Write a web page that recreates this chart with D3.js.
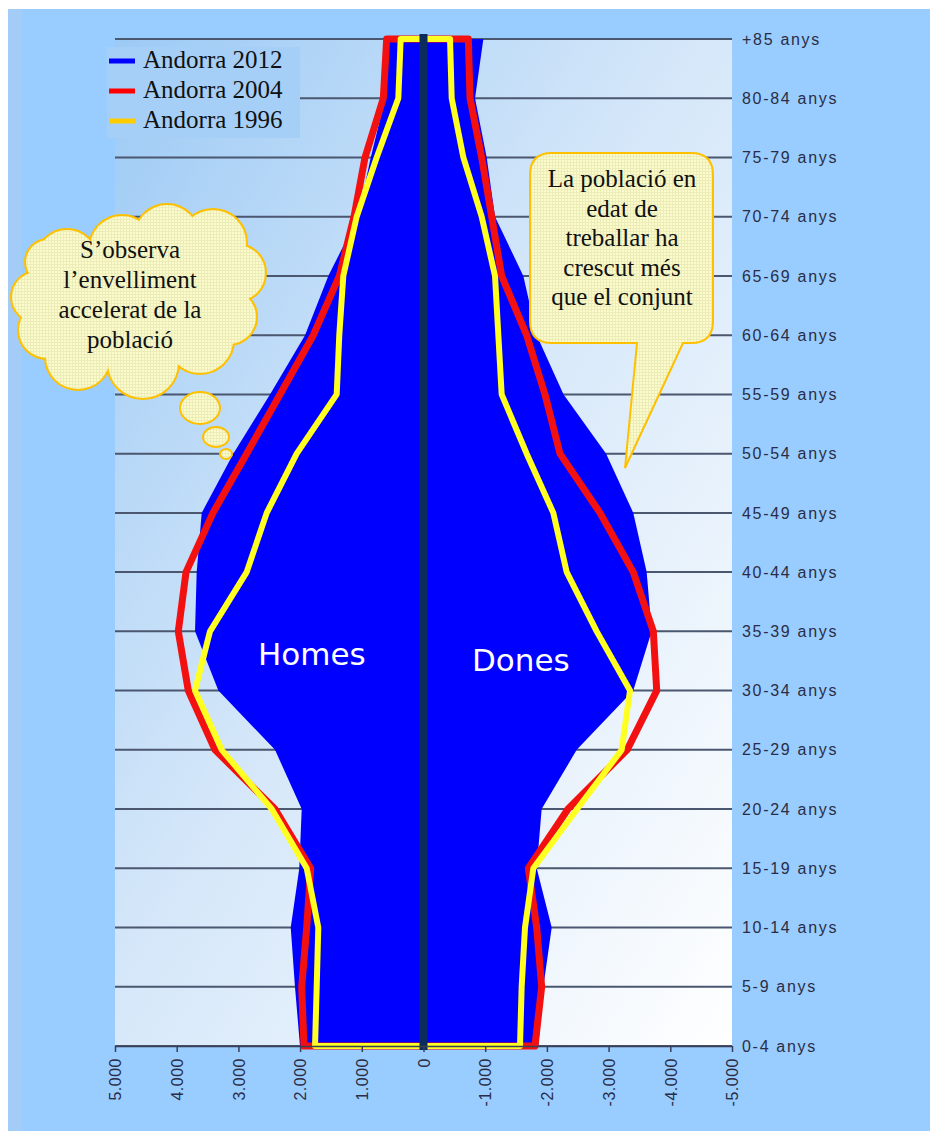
<!DOCTYPE html>
<html><head><meta charset="utf-8">
<script src="https://cdn.jsdelivr.net/npm/d3@7"></script>
<style>body{margin:0;background:#99ccff;} svg{display:block}</style>
</head><body>
<svg id="chart" width="930" height="1131"></svg>
<script>
// ---- data (bottom to top) ----
const categories = ["0-4 anys","5-9 anys","10-14 anys","15-19 anys","20-24 anys","25-29 anys","30-34 anys","35-39 anys","40-44 anys","45-49 anys","50-54 anys","55-59 anys","60-64 anys","65-69 anys","70-74 anys","75-79 anys","80-84 anys","+85 anys"];
// Homes (positive, left side)
const homes2012 = [2002,2083,2152,2013,1974,2407,3325,3703,3676,3595,3083,2488,1920,1543,1060,855,620,580];
const homes2004 = [1937,1974,1893,1828,2407,3379,3812,3974,3849,3412,2866,2326,1786,1364,1126,948,651,597];
const homes1996 = [1758,1731,1705,1893,2460,3271,3703,3460,2866,2541,2055,1407,1365,1300,1083,759,408,370];
// Dones (negative, right side)
const dones2012 = [-1861,-1942,-2078,-1835,-1915,-2483,-3400,-3698,-3617,-3400,-2960,-2270,-1835,-1618,-1159,-1024,-835,-970];
const dones2004 = [-1807,-1915,-1835,-1699,-2342,-3300,-3780,-3725,-3400,-2861,-2212,-1969,-1672,-1267,-1105,-943,-754,-727];
const dones1996 = [-1564,-1591,-1645,-1780,-2490,-3212,-3347,-2807,-2321,-2104,-1672,-1267,-1213,-1159,-943,-646,-457,-430];
const xTicks = [5000,4000,3000,2000,1000,0,-1000,-2000,-3000,-4000,-5000];
const seriesNames = ["Andorra 2012","Andorra 2004","Andorra 1996"];
const seriesColors = ["#0000ff","#f21010","#ffff22"];
const legendColors = ["#0000ff","#ff0000","#ffcc00"];

const svg = d3.select("#chart");
const L = 115, R = 732, T = 39, B = 1046;
const x = d3.scaleLinear().domain([5000,-5000]).range([L,R]);
const y = d3.scalePoint().domain(categories).range([B,T]);

const defs = svg.append("defs");
const grad = defs.append("linearGradient").attr("id","plotbg").attr("x1",0).attr("y1",0).attr("x2",1).attr("y2",1);
grad.append("stop").attr("offset","0").attr("stop-color","#9ccaf5");
grad.append("stop").attr("offset","0.45").attr("stop-color","#d3e6f9");
grad.append("stop").attr("offset","1").attr("stop-color","#ffffff");
const pat = defs.append("pattern").attr("id","tex").attr("width",3).attr("height",3).attr("patternUnits","userSpaceOnUse");
pat.append("rect").attr("width",3).attr("height",3).attr("fill","#fbfbcb");
pat.append("rect").attr("width",3).attr("height",1).attr("fill","#ececb8");
pat.append("rect").attr("width",1).attr("height",3).attr("fill","#ececb8");

// outer background and white edges
svg.append("rect").attr("width",930).attr("height",1131).attr("fill","#99ccff");
svg.append("rect").attr("width",930).attr("height",9).attr("fill","#ffffff");
svg.append("rect").attr("width",8).attr("height",1131).attr("fill","#ffffff");
svg.append("rect").attr("x",8).attr("y",9).attr("width",14).attr("height",1122).attr("fill","#a3cdf6");

// plot area
svg.append("rect").attr("x",L).attr("y",T).attr("width",R-L).attr("height",B-T).attr("fill","url(#plotbg)");

// gridlines
svg.append("g").selectAll("line").data(categories).join("line")
  .attr("x1",L).attr("x2",R).attr("y1",d=>y(d)).attr("y2",d=>y(d))
  .attr("stroke","#4b566f").attr("stroke-width",2);

// series polygons
function poly(h,d){
  const pts = h.map((v,i)=>[x(v),y(categories[i])]);
  const pts2 = d.map((v,i)=>[x(v),y(categories[i])]).reverse();
  return d3.line()(pts.concat(pts2)) + "Z";
}
svg.append("path").attr("d",poly(homes2012,dones2012)).attr("fill",seriesColors[0]);
svg.append("path").attr("d",poly(homes2004,dones2004)).attr("fill","none")
  .attr("stroke",seriesColors[1]).attr("stroke-width",7).attr("stroke-linejoin","round");
svg.append("path").attr("d",poly(homes1996,dones1996)).attr("fill","none")
  .attr("stroke",seriesColors[2]).attr("stroke-width",6).attr("stroke-linejoin","round");

// central axis bar
svg.append("line").attr("x1",x(0)).attr("x2",x(0)).attr("y1",34).attr("y2",B+4)
  .attr("stroke","#0b2c5c").attr("stroke-width",8);

// bottom axis
const loc = d3.formatLocale({decimal:",",thousands:".",grouping:[3],currency:["",""],minus:"-"});
const fmt = loc.format(",d");
const xAxis = svg.append("g").attr("transform",`translate(0,${B})`)
  .call(d3.axisBottom(x).tickValues(xTicks).tickFormat(fmt).tickSizeOuter(0).tickSizeInner(6));
xAxis.select(".domain").attr("stroke","#3a3f55").attr("stroke-width",1.5);
xAxis.selectAll(".tick line").attr("stroke","#3a3f55").attr("stroke-width",1.5);
xAxis.selectAll(".tick text")
  .attr("transform","rotate(-90)").attr("x",-12).attr("y",0).attr("dy","0.36em")
  .attr("text-anchor","end").attr("fill","#2a2d45")
  .style("font-family","'Liberation Sans', Arial, sans-serif").style("font-size","16px").style("letter-spacing","0.5px");

// right category labels
const yAxis = svg.append("g").attr("transform",`translate(${R},0)`)
  .call(d3.axisRight(y).tickSize(0).tickPadding(10));
yAxis.select(".domain").remove();
yAxis.selectAll(".tick text").attr("fill","#2a2d45")
  .style("font-family","'Liberation Sans', Arial, sans-serif").style("font-size","16px").style("letter-spacing","1.7px");

// legend
const lg = svg.append("g");
lg.append("rect").attr("x",107).attr("y",47).attr("width",193).attr("height",91).attr("fill","#a6cff7");
seriesNames.forEach((n,i)=>{
  const yy = 61 + i*30;
  lg.append("line").attr("x1",109).attr("x2",135).attr("y1",yy).attr("y2",yy)
    .attr("stroke",legendColors[i]).attr("stroke-width",5);
  lg.append("text").attr("x",143).attr("y",68+i*30).text(n)
    .attr("fill","#111").style("font-family","'Liberation Serif', serif").style("font-size","25px");
});

// Homes / Dones labels
svg.append("text").attr("x",258).attr("y",665).text("Homes").attr("fill","#fff")
  .style("font-family","'DejaVu Sans', Verdana, sans-serif").style("font-size","31px");
svg.append("text").attr("x",472).attr("y",671).text("Dones").attr("fill","#fff")
  .style("font-family","'DejaVu Sans', Verdana, sans-serif").style("font-size","31px");

// cloud callout
const cloud = [[67,260,30],[122,248,32],[167,237,32],[213,243,33],[237,273,28],[229,317,27],[200,340,33],[143,363,35],[78,357,32],[47,330,28],[37,297,25],[48,262,22]];
const cg = svg.append("g");
cg.selectAll("circle.s").data(cloud).join("circle").attr("class","s")
  .attr("cx",d=>d[0]).attr("cy",d=>d[1]).attr("r",d=>d[2])
  .attr("fill","none").attr("stroke","#ffc000").attr("stroke-width",4);
cg.selectAll("circle.f").data(cloud).join("circle").attr("class","f")
  .attr("cx",d=>d[0]).attr("cy",d=>d[1]).attr("r",d=>d[2]).attr("fill","url(#tex)");
cg.append("ellipse").attr("cx",140).attr("cy",300).attr("rx",100).attr("ry",65).attr("fill","url(#tex)");
[[200,408,20,16],[216,437,13,10],[226,454,6,5]].forEach(e=>{
  cg.append("ellipse").attr("cx",e[0]).attr("cy",e[1]).attr("rx",e[2]).attr("ry",e[3])
    .attr("fill","url(#tex)").attr("stroke","#ffc000").attr("stroke-width",2);
});
const cloudText = ["S\u2019observa","l\u2019envelliment","accelerat de la","població"];
cloudText.forEach((t,i)=>{
  cg.append("text").attr("x",130).attr("y",258+i*30).attr("text-anchor","middle").text(t)
    .attr("fill","#111").style("font-family","'Liberation Serif', serif").style("font-size","25px");
});

// speech bubble callout
const sg = svg.append("g");
sg.append("path").attr("d","M552,153 H691 Q713,153 713,175 V321 Q713,343 691,343 H683 L625,468 L637,343 H552 Q530,343 530,321 V175 Q530,153 552,153 Z")
  .attr("fill","url(#tex)").attr("stroke","#ffc000").attr("stroke-width",2);
const bubbleText = ["La població en","edat de","treballar ha","crescut més","que el conjunt"];
bubbleText.forEach((t,i)=>{
  sg.append("text").attr("x",622).attr("y",187+i*29.5).attr("text-anchor","middle").text(t)
    .attr("fill","#111").style("font-family","'Liberation Serif', serif").style("font-size","25px");
});
</script>
</body></html>
